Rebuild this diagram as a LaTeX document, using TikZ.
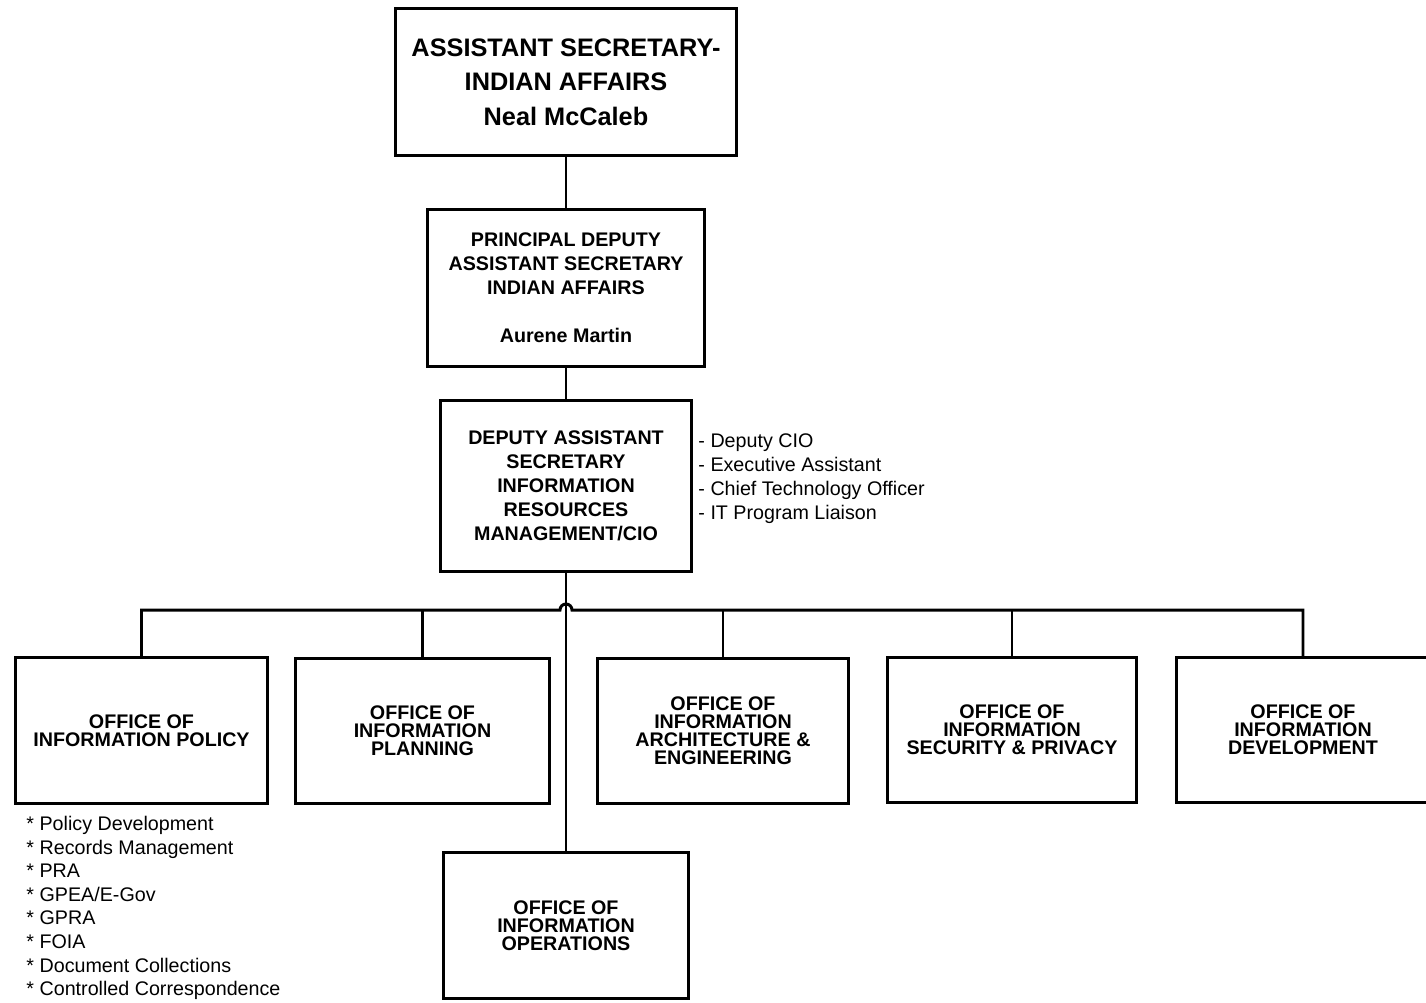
\documentclass[tikz,border=0pt]{standalone}
\usepackage{fontspec}
\setmainfont{Liberation Sans}
\newcommand{\bigsz}{\fontsize{7.2}{9.8}\selectfont}
\newcommand{\midsz}{\fontsize{5.6}{6.8}\selectfont}
\newcommand{\offsz}{\fontsize{5.6}{5.1}\selectfont}
\tikzset{officebox/.style={draw,align=center,inner sep=0pt,minimum width=2.5cm,minimum height=1.45cm,font=\bfseries\offsz},
         duties/.style={align=left,inner sep=0pt,anchor=west,font=\midsz}}
\newcommand{\office}[4][]{\node[officebox,#1] at (#2) (#3) {#4}}

\begin{document}
\begin{tikzpicture}[x=0.01cm,y=-0.01cm,line width=0.85pt]
  \useasboundingbox (0,0) rectangle (1426,1002);

  \office[minimum width=3.4cm,minimum height=1.46cm,font=\bfseries\bigsz]{566,82}{asia}{ASSISTANT SECRETARY-\\INDIAN AFFAIRS\\Neal McCaleb};
  \office[minimum width=2.76cm,minimum height=1.56cm,font=\bfseries\midsz]{566,288}{pdas}{PRINCIPAL DEPUTY\\ASSISTANT SECRETARY\\INDIAN AFFAIRS\\[6.8pt]Aurene Martin};
  \office[minimum width=2.51cm,minimum height=1.70cm,font=\bfseries\midsz]{566,486}{das}{DEPUTY ASSISTANT\\SECRETARY\\INFORMATION\\RESOURCES\\MANAGEMENT/CIO};
  \office[minimum width=2.51cm]{141.5,730.5}{oip}{OFFICE OF\\INFORMATION POLICY};
  \office[minimum width=2.53cm]{422.5,731}{oipl}{OFFICE OF\\INFORMATION\\PLANNING};
  \office{723,731}{oiae}{OFFICE OF\\INFORMATION\\ARCHITECTURE \&\\ENGINEERING};
  \office[minimum width=2.48cm]{1012,730}{oisp}{OFFICE OF\\INFORMATION\\SECURITY \& PRIVACY};
  \office[minimum width=2.52cm]{1303,730}{oid}{OFFICE OF\\INFORMATION\\DEVELOPMENT};
  \office[minimum width=2.45cm]{566,925.5}{oio}{OFFICE OF\\INFORMATION\\OPERATIONS};

  \node[duties] (dasstaff) at (697,479) {- Deputy CIO\\- Executive Assistant\\- Chief Technology Officer\\- IT Program Liaison};
  \node[duties,font=\fontsize{5.6}{6.7}\selectfont] (oipduties) at (25,908) {* Policy Development\\* Records Management\\* PRA\\* GPEA/E-Gov\\* GPRA\\* FOIA\\* Document Collections\\* Controlled Correspondence};

  \coordinate (hopL) at (560,610);
  \coordinate (hopR) at (572,610);

  \draw (asia) -- (pdas)
        (pdas) -- (das)
        (das) -- (oio);
  \draw (oip.north) |- (hopL) arc[start angle=180,end angle=360,radius=6] -| (oid.north);
  \draw (oipl.north) -- (oipl.north |- hopL)
        (oiae.north) -- (oiae.north |- hopR)
        (oisp.north) -- (oisp.north |- hopR);
\end{tikzpicture}
\end{document}
